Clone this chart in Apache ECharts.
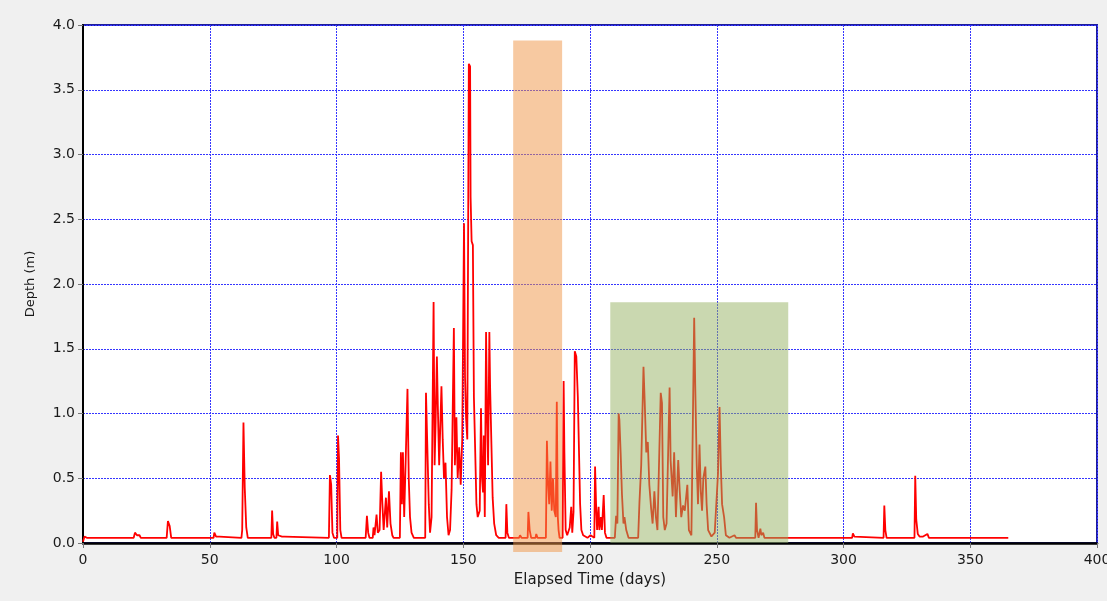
<!DOCTYPE html>
<html>
<head>
<meta charset="utf-8">
<title>Depth vs Elapsed Time</title>
<script src="https://cdn.jsdelivr.net/npm/echarts@6/dist/echarts.min.js"></script>
<style>
  html, body { margin: 0; padding: 0; background: #f0f0f0; }
  #chart { width: 1107px; height: 601px; }
</style>
</head>
<body>
<div id="chart"></div>
<script>
// elapsed time (days) and depth (m)
const days = [
  0, 0.6, 1.5, 20.0, 20.5, 21.3, 22.3, 22.8, 33.0, 33.5, 34.2, 34.8,
  51.5, 51.8, 52.5, 53.8, 54.3, 62.5, 62.8, 63.3, 63.8, 64.4, 65.0,
  74.3, 74.6, 75.0, 75.5, 76.3, 76.6, 77.0, 78.5, 79.5, 80.0,
  97.0, 97.4, 97.9, 98.4, 99.0, 100.3, 100.6, 101.0, 101.5, 102.0,
  105.0, 105.3, 106.0, 107.0, 107.3, 108.0, 111.5, 112.0, 112.5, 113.0,
  114.3, 114.6, 115.0, 115.8, 116.3, 117.0, 117.6, 118.1, 118.6, 119.5,
  120.0, 120.7, 121.3, 122.0, 122.5, 125.0, 125.4, 125.8, 126.2, 126.7,
  127.4, 128.0, 128.5, 129.0, 129.6, 130.5, 135.0, 135.3, 135.8, 136.4,
  136.9, 137.5, 138.3, 138.7, 139.1, 139.6, 140.0, 140.5, 141.4, 141.9,
  142.4, 143.0, 143.6, 144.2, 144.8, 145.4, 146.3, 146.7, 147.3, 147.8,
  148.4, 149.0, 149.6, 150.3, 150.7, 151.1, 151.6, 152.2, 152.7, 152.9,
  153.3, 153.8, 154.2, 154.7, 155.2, 155.7, 156.5, 157.0, 157.4, 157.8,
  158.1, 158.5, 159.0, 159.4, 159.8, 160.3, 160.6, 161.1, 161.6, 162.2,
  163.0, 164.0, 166.7, 167.0, 167.4, 168.0, 172.0, 172.4, 173.0,
  175.4, 175.7, 176.2, 176.8, 178.5, 178.8, 179.3, 182.6, 183.0, 183.4,
  183.9, 184.4, 184.9, 185.4, 185.9, 186.5, 186.9, 187.3, 187.6, 188.0,
  189.2, 189.6, 189.9, 190.4, 191.0, 192.0, 192.6, 193.0, 193.5, 194.0,
  194.6, 195.2, 195.7, 196.1, 196.6, 197.3, 199.0, 200.2, 201.7, 202.0,
  202.4, 202.8, 203.4, 203.7, 204.3, 204.7, 205.4, 205.9, 206.5,
  209.8, 210.3, 210.8, 211.3, 211.6, 212.1, 212.6, 213.2, 213.6, 214.3,
  215.2, 219.0, 219.5, 220.2, 221.1, 221.6, 222.2, 222.8, 223.4, 224.1,
  224.7, 225.4, 226.0, 226.6, 227.9, 228.4, 228.9, 229.5, 230.2, 231.4,
  231.8, 232.6, 233.2, 233.9, 234.8, 235.4, 236.0, 236.7, 237.4, 238.4,
  239.0, 240.0, 241.1, 241.5, 242.1, 242.6, 243.2, 243.7, 244.2, 244.7,
  245.5, 246.0, 246.6, 247.9, 249.2, 250.5, 251.1, 251.6, 252.1, 252.9,
  253.6, 255.0, 257.0, 257.6, 262.0, 262.5, 263.0, 265.2, 265.5, 265.9,
  266.5, 267.2, 267.6, 268.3, 268.8, 303.4, 303.7, 304.3, 304.8,
  315.8, 316.1, 316.5, 317.0, 328.0, 328.3, 328.7, 329.3, 330.0, 330.6,
  331.4, 332.0, 333.1, 333.7, 365.0
];
const depth = [
  0.01, 0.05, 0.04, 0.04, 0.08, 0.06, 0.06, 0.04, 0.04, 0.17, 0.13, 0.04,
  0.04, 0.08, 0.05, 0.05, 0.04, 0.04, 0.10, 0.93, 0.43, 0.12, 0.04,
  0.04, 0.25, 0.07, 0.04, 0.04, 0.165, 0.06, 0.05, 0.05, 0.04,
  0.04, 0.525, 0.45, 0.08, 0.04, 0.04, 0.83, 0.65, 0.10, 0.04,
  0.04, 0.05, 0.04, 0.04, 0.05, 0.04, 0.04, 0.21, 0.08, 0.04,
  0.04, 0.12, 0.06, 0.22, 0.08, 0.10, 0.55, 0.30, 0.10, 0.35,
  0.12, 0.40, 0.15, 0.06, 0.04, 0.04, 0.70, 0.30, 0.70, 0.20,
  0.72, 1.19, 0.50, 0.20, 0.08, 0.04, 0.04, 1.16, 0.77, 0.30,
  0.08, 0.20, 1.86, 0.60, 0.93, 1.44, 1.03, 0.60, 1.21, 0.80,
  0.50, 0.62, 0.20, 0.06, 0.10, 0.41, 1.66, 0.60, 0.97, 0.50,
  0.74, 0.45, 0.80, 2.47, 1.28, 0.97, 0.80, 3.70, 3.68, 2.67,
  2.33, 2.30, 1.13, 0.72, 0.30, 0.20, 0.25, 1.04, 0.50, 0.39,
  0.83, 0.20, 1.63, 1.00, 0.60, 1.63, 1.20, 0.77, 0.35, 0.15,
  0.06, 0.04, 0.04, 0.30, 0.08, 0.04, 0.04, 0.06, 0.04,
  0.04, 0.24, 0.10, 0.04, 0.04, 0.07, 0.04, 0.04, 0.79, 0.50,
  0.30, 0.63, 0.25, 0.50, 0.25, 0.20, 1.09, 0.20, 0.10, 0.04,
  0.04, 1.25, 0.70, 0.10, 0.06, 0.12, 0.28, 0.08, 0.24, 1.48,
  1.44, 1.13, 0.67, 0.30, 0.10, 0.06, 0.04, 0.06, 0.04, 0.59,
  0.30, 0.10, 0.28, 0.10, 0.20, 0.10, 0.37, 0.08, 0.04,
  0.04, 0.21, 0.15, 1.00, 0.95, 0.69, 0.38, 0.15, 0.20, 0.10,
  0.04, 0.04, 0.31, 0.60, 1.36, 1.08, 0.70, 0.78, 0.45, 0.27,
  0.15, 0.40, 0.20, 0.10, 1.16, 1.08, 0.20, 0.10, 0.15, 1.20,
  0.64, 0.36, 0.70, 0.20, 0.64, 0.40, 0.20, 0.29, 0.25, 0.45,
  0.10, 0.06, 1.74, 1.23, 0.60, 0.30, 0.76, 0.40, 0.25, 0.50,
  0.59, 0.30, 0.10, 0.05, 0.08, 0.54, 1.05, 0.60, 0.30, 0.20,
  0.06, 0.04, 0.06, 0.04, 0.04, 0.05, 0.04, 0.04, 0.31, 0.10,
  0.04, 0.11, 0.06, 0.08, 0.04, 0.04, 0.075, 0.05, 0.04,
  0.04, 0.29, 0.10, 0.04, 0.04, 0.52, 0.18, 0.07, 0.05, 0.065,
  0.05, 0.06, 0.07, 0.04, 0.04
];

// highlighted periods: [startDay, endDay, bottomDepth, topDepth]
const orangeBand = [169.7, 189.0, -0.07, 3.88];
const greenBand = [208.0, 278.2, 0.0, 1.86];

const xTicks = [0, 50, 100, 150, 200, 250, 300, 350, 400];
const yTicks = [0.0, 0.5, 1.0, 1.5, 2.0, 2.5, 3.0, 3.5, 4.0];

const chart = echarts.init(document.getElementById('chart'));

const labelFont = { fontFamily: 'DejaVu Sans', fontSize: 14, color: '#1a1a1a' };

const bands = [
  { rect: orangeBand, color: 'rgba(239,147,67,0.5)' },
  { rect: greenBand, color: 'rgba(150,178,97,0.5)' }
];

const gridLine = { lineStyle: { color: '#3535ff', type: [2, 1], width: 1 } };

const option = {
  backgroundColor: '#f0f0f0',
  animation: false,
  grid: {
    left: 83, right: 10, top: 25, bottom: 58,
    outerBoundsMode: 'none',
    containLabel: false,
    show: true,
    backgroundColor: '#ffffff',
    borderColor: '#1c1c9c',
    borderWidth: 2
  },
  xAxis: {
    type: 'value',
    min: xTicks[0],
    max: xTicks[xTicks.length - 1],
    interval: 50,
    name: 'Elapsed Time (days)',
    nameLocation: 'middle',
    nameGap: 30,
    nameTextStyle: Object.assign({}, labelFont, { fontSize: 15 }),
    axisLine: { lineStyle: { color: '#000', width: 2.5 } },
    axisTick: { show: true, length: 5, lineStyle: { color: '#777' } },
    axisLabel: Object.assign({ margin: 10 }, labelFont),
    splitLine: gridLine
  },
  yAxis: {
    type: 'value',
    min: yTicks[0],
    max: yTicks[yTicks.length - 1],
    interval: 0.5,
    name: 'Depth (m)',
    nameLocation: 'middle',
    nameGap: 46,
    nameTextStyle: Object.assign({}, labelFont, { fontSize: 13 }),
    axisLine: { lineStyle: { color: '#000', width: 2 } },
    axisTick: { show: true, length: 5, lineStyle: { color: '#777' } },
    axisLabel: Object.assign({ margin: 8, formatter: v => v.toFixed(1) }, labelFont),
    splitLine: gridLine
  },
  series: [
    {
      name: 'Depth',
      type: 'line',
      data: days.map((d, i) => [d, depth[i]]),
      showSymbol: false,
      lineStyle: { color: '#ff0000', width: 1.8 },
      z: 2
    },
    {
      // translucent shading drawn over the line
      type: 'custom',
      data: bands.map((b, i) => [i]),
      clip: false,
      z: 5,
      renderItem: (params, api) => {
        const b = bands[api.value(0)];
        const p0 = api.coord([b.rect[0], b.rect[3]]);
        const p1 = api.coord([b.rect[1], b.rect[2]]);
        return {
          type: 'rect',
          shape: { x: p0[0], y: p0[1], width: p1[0] - p0[0], height: p1[1] - p0[1] },
          style: { fill: b.color }
        };
      }
    }
  ]
};

chart.setOption(option);
</script>
</body>
</html>
